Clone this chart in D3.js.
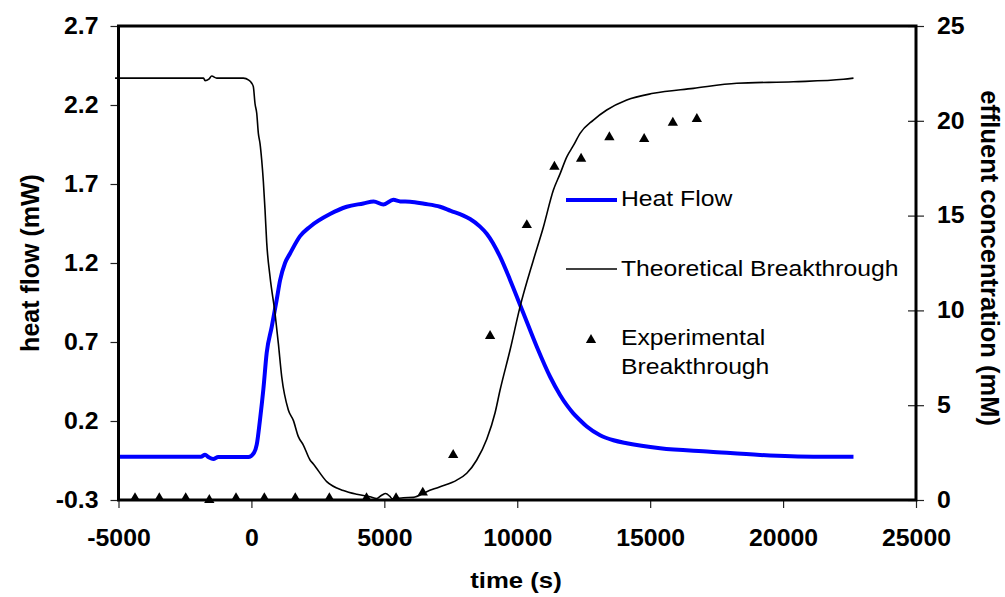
<!DOCTYPE html>
<html>
<head>
<meta charset="utf-8">
<script src="https://cdn.jsdelivr.net/npm/d3@7"></script>
<style>
  html, body { margin: 0; padding: 0; background: #fff; }
  svg { display: block; font-family: "Liberation Sans", Arial, sans-serif; }
</style>
</head>
<body>
<svg id="chart" width="1005" height="597"></svg>
<script>
// Calorimetric heat flow during adsorption, with effluent breakthrough curves.

// time (s), heat flow (mW)
const heatTime = [-4980, -3000, -1900, -1745, -1600, -1433, -1250, -116, 100, 200, 324, 449, 574, 764, 950, 1077, 1265, 1453, 1830, 2205, 2958, 3585, 4212, 4600, 4964, 5340, 5600, 5965, 6500, 7097, 7500, 7974, 8225, 8601, 8852, 9354, 9730, 10232, 10735, 11236, 11610, 11864, 12100, 12363, 12616, 13115, 13620, 14119, 15373, 17255, 19136, 21143, 22648];
const heatFlow = [-0.026, -0.026, -0.026, -0.014, -0.03, -0.04, -0.028, -0.028, 0.0, 0.05, 0.21, 0.4, 0.63, 0.795, 0.966, 1.09, 1.2, 1.26, 1.37, 1.43, 1.51, 1.556, 1.577, 1.59, 1.57, 1.6, 1.59, 1.588, 1.575, 1.556, 1.53, 1.5, 1.478, 1.43, 1.385, 1.24, 1.093, 0.882, 0.67, 0.48, 0.365, 0.3, 0.25, 0.205, 0.165, 0.11, 0.078, 0.059, 0.027, 0.006, -0.015, -0.026, -0.026];

// time (s), theoretical effluent concentration (mM)
const theoTime = [-5130, -1800, -1745, -1600, -1493, -1305, -304, -100, 12, 72, 136, 200, 261, 324, 387, 449, 512, 574, 700, 888, 1013, 1140, 1389, 1577, 1766, 1953, 2205, 2330, 2833, 3459, 3962, 4463, 4713, 4900, 5050, 5200, 5300, 5716, 6092, 6594, 7097, 7724, 8100, 8476, 8852, 9166, 9354, 9730, 10107, 10608, 10984, 11360, 11610, 11864, 12114, 12363, 12864, 13366, 14119, 15122, 16627, 18258, 20389, 22271, 22648];
const theoConc = [22.25, 22.25, 22.12, 22.2, 22.36, 22.25, 22.25, 22.15, 21.98, 21.8, 20.9, 20.4, 19.34, 18.8, 17.93, 16.8, 15.3, 13.6, 11.78, 9.85, 8.26, 6.5, 4.75, 4.2, 3.34, 2.9, 2.11, 1.9, 0.97, 0.5, 0.3, 0.17, 0.08, 0.25, 0.34, 0.2, 0.06, 0.12, 0.14, 0.44, 0.7, 1.05, 1.41, 2.11, 3.2, 4.6, 5.8, 7.91, 10.2, 12.66, 14.4, 16.35, 17.2, 18.1, 18.7, 19.34, 20.04, 20.57, 21.1, 21.45, 21.71, 21.98, 22.06, 22.19, 22.25];

// time (s), measured effluent concentration (mM)
const expTime = [-4379, -3465, -2472, -1584, -579, 486, 1650, 2932, 4330, 5441, 6446, 7590, 8978, 10359, 11398, 12402, 13466, 14774, 15853, 16756];
const expConc = [0.1, 0.1, 0.1, 0.0, 0.1, 0.1, 0.1, 0.1, 0.1, 0.1, 0.39, 2.37, 8.65, 14.5, 17.58, 18.0, 19.13, 19.04, 19.9, 20.1];

// axis ticks
const timeTicks = [-5000, 0, 5000, 10000, 15000, 20000, 25000];
const heatTicks = [-0.3, 0.2, 0.7, 1.2, 1.7, 2.2, 2.7];
const concTicks = [0, 5, 10, 15, 20, 25];

const legendLabels = ["Heat Flow", "Theoretical Breakthrough", ["Experimental", "Breakthrough"]];

const svg = d3.select("#chart");
const plot = { left: 118.5, right: 916, top: 26, bottom: 500 };

const x = d3.scaleLinear().domain([-5000, 25000]).range([plot.left, plot.right]);
const yL = d3.scaleLinear().domain([-0.3, 2.7]).range([plot.bottom, plot.top]);
const yR = d3.scaleLinear().domain([0, 25]).range([plot.bottom, plot.top]);

// plain hyphen for negative numbers
const hyph = f => v => f(v).replace("\u2212", "-");

// widen text horizontally about its anchor point
function stretch(sel, sx) {
  sel.each(function () {
    const t = d3.select(this);
    const ax = +t.attr("x") || 0;
    t.attr("transform", `translate(${ax},0) scale(${sx},1) translate(${-ax},0)`);
  });
}

const tickFont = 23, tickStretch = 1.08;

// bottom axis
const gx = svg.append("g")
  .attr("transform", `translate(0,${plot.bottom})`)
  .call(d3.axisBottom(x).tickValues(timeTicks).tickFormat(hyph(d3.format("d"))).tickSize(8).tickPadding(22));
// left axis
const gl = svg.append("g")
  .attr("transform", `translate(${plot.left},0)`)
  .call(d3.axisLeft(yL).tickValues(heatTicks).tickFormat(hyph(d3.format(".1f"))).tickSize(8).tickPadding(12));
// right axis
const gr = svg.append("g")
  .attr("transform", `translate(${plot.right},0)`)
  .call(d3.axisRight(yR).tickValues(concTicks).tickFormat(d3.format("d")).tickSize(8).tickPadding(13));
gr.selectAll(".tick line").attr("x1", -8);

[gx, gl, gr].forEach(g => {
  g.select(".domain").remove();
  g.selectAll(".tick line").attr("stroke", "#222").attr("stroke-width", 1.2);
  g.selectAll(".tick text")
    .attr("fill", "#000")
    .attr("font-size", tickFont)
    .attr("font-weight", "bold")
    .attr("font-family", "'Liberation Sans', Arial, sans-serif")
    .call(stretch, tickStretch);
});

// series
const heatData = heatTime.map((t, i) => [t, heatFlow[i]]);
const theoData = theoTime.map((t, i) => [t, theoConc[i]]);
const expData = expTime.map((t, i) => [t, expConc[i]]);

svg.append("path")
  .datum(heatData)
  .attr("fill", "none")
  .attr("stroke", "#0000ff")
  .attr("stroke-width", 4)
  .attr("stroke-linejoin", "round")
  .attr("d", d3.line().curve(d3.curveMonotoneX).x(d => x(d[0])).y(d => yL(d[1])));

svg.append("path")
  .datum(theoData)
  .attr("fill", "none")
  .attr("stroke", "#000")
  .attr("stroke-width", 1.6)
  .attr("stroke-linejoin", "round")
  .attr("d", d3.line().curve(d3.curveMonotoneX).x(d => x(d[0])).y(d => yR(d[1])));

// plot frame
svg.append("rect")
  .attr("x", plot.left).attr("y", plot.top)
  .attr("width", plot.right - plot.left).attr("height", plot.bottom - plot.top)
  .attr("fill", "none").attr("stroke", "#000").attr("stroke-width", 3);

const tri = d3.symbol().type(d3.symbolTriangle).size(46);
svg.append("g").selectAll("path")
  .data(expData)
  .join("path")
  .attr("transform", d => `translate(${x(d[0])},${yR(d[1])})`)
  .attr("d", tri)
  .attr("fill", "#000");

// axis titles
svg.append("text")
  .attr("x", 516).attr("y", 588)
  .attr("text-anchor", "middle")
  .attr("font-size", 23).attr("font-weight", "bold")
  .text("time (s)")
  .call(stretch, 1.12);

svg.append("text")
  .attr("transform", `translate(39,263) rotate(-90)`)
  .attr("text-anchor", "middle")
  .attr("font-size", 25).attr("font-weight", "bold")
  .text("heat flow (mW)");

svg.append("text")
  .attr("transform", `translate(981,258) rotate(90)`)
  .attr("text-anchor", "middle")
  .attr("font-size", 25.5).attr("font-weight", "bold")
  .text("effluent concentration (mM)");

// legend
const lg = svg.append("g");
const lgText = (y, s) => lg.append("text")
  .attr("x", 621).attr("y", y)
  .attr("font-size", 21.5)
  .text(s)
  .call(stretch, 1.15);

lg.append("line").attr("x1", 566).attr("x2", 617).attr("y1", 200).attr("y2", 200)
  .attr("stroke", "#0000ff").attr("stroke-width", 4);
lgText(206, legendLabels[0]);

lg.append("line").attr("x1", 566).attr("x2", 617).attr("y1", 269).attr("y2", 269)
  .attr("stroke", "#000").attr("stroke-width", 1.6);
lgText(276, legendLabels[1]);

lg.append("path").attr("transform", "translate(591,340)").attr("d", tri).attr("fill", "#000");
lgText(345, legendLabels[2][0]);
lgText(374, legendLabels[2][1]);
</script>
</body>
</html>
